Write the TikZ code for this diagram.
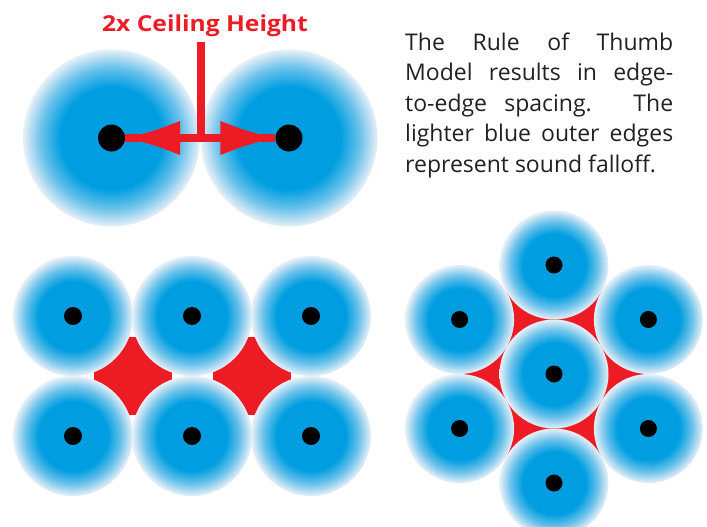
\documentclass[tikz,border=0pt]{standalone}
\usepackage{fontspec}
\setmainfont{Open Sans}
\newfontfamily\titlefont[FakeStretch=1.12]{Open Sans}
\usetikzlibrary{calc}

\definecolor{spkblue}{rgb}{0.0,0.62,0.88}
\definecolor{spkmid}{rgb}{0.42,0.76,0.92}
\definecolor{spkedge}{rgb}{0.91,0.94,0.97}
\definecolor{ceilred}{rgb}{0.93,0.11,0.14}
\definecolor{txtgray}{rgb}{0.14,0.12,0.13}

\pgfdeclareradialshading{speakerfade}{\pgfpoint{0bp}{0bp}}{color(0bp)=(spkblue); color(14.5bp)=(spkblue); color(20bp)=(spkmid); color(25bp)=(spkedge); color(50bp)=(spkedge)}

\tikzset{
  spk/.style={circle, inner sep=0pt, minimum size=#1, shading=speakerfade},
  dot/.style={circle, inner sep=0pt, minimum size=#1, fill=black},
  gap/.style={fill=ceilred},
  bar/.style={draw=ceilred, line width=7.5pt, line cap=butt}
}

\begin{document}
\begin{tikzpicture}[x=1pt,y=-1pt,line cap=round,line join=round]
  \useasboundingbox (0,0) rectangle (707,527);

  % two speakers, edge to edge
  \node[spk=177pt] (lspk) at (111.5,138) {};
  \node[spk=177pt] (rspk) at (289,138) {};
  \node[dot=27pt] (ldot) at (lspk) {};
  \node[dot=27pt] (rdot) at (rspk) {};
  \node[font=\fontsize{22}{26}\titlefont\bfseries, text=ceilred, anchor=base] (ttl) at (205,32) {2x Ceiling Height};
  \coordinate (bartop) at (201,42);
  \draw[bar] (ldot) -- (rdot);
  \draw[bar] (bartop) -- (bartop |- ldot);
  \begin{scope}[shift={(ldot.east)}]
    \fill[ceilred] (0,0) .. controls (27.5,6.5) .. (55,17) -- (55,-17) .. controls (27.5,-6.5) .. (0,0);
  \end{scope}
  \begin{scope}[shift={(rdot.west)}]
    \fill[ceilred] (0,0) .. controls (-27.5,6.5) .. (-55,17) -- (-55,-17) .. controls (-27.5,-6.5) .. (0,0);
  \end{scope}

  \node[anchor=base west, inner sep=0pt, text width=268pt, align=justify, text=txtgray,
        font=\fontsize{23}{30.5}\selectfont] (note) at (405,50.5)
    {The Rule of Thumb\linebreak Model results in edge-\linebreak to-edge spacing. The\linebreak lighter blue outer edges\linebreak represent sound falloff.};

  % square grid
  \foreach \c in {132.5,251.5}
    \fill[gap] (\c-39,337) rectangle (\c+39,415);
  \foreach \x [count=\i] in {73,192,311} {
    \node[spk=120pt] (gt\i) at (\x,316) {};
    \node[spk=120pt] (gb\i) at (\x,436) {};
    \node[dot=18pt] at (gt\i) {};
    \node[dot=18pt] at (gb\i) {};
  }

  % hexagonal cluster
  \coordinate (h0) at (554,374);
  \foreach \a [count=\i] in {90,30,-30,-90,-150,150}
    \coordinate (h\i) at ($(h0)+(\a:109)$);
  \fill[gap] (h1) -- (h2) -- (h3) -- (h4) -- (h5) -- (h6) -- cycle;
  \foreach \i in {0,...,6} {
    \node[spk=109pt] (hc\i) at (h\i) {};
    \node[dot=17pt] at (hc\i) {};
  }
\end{tikzpicture}
\end{document}
